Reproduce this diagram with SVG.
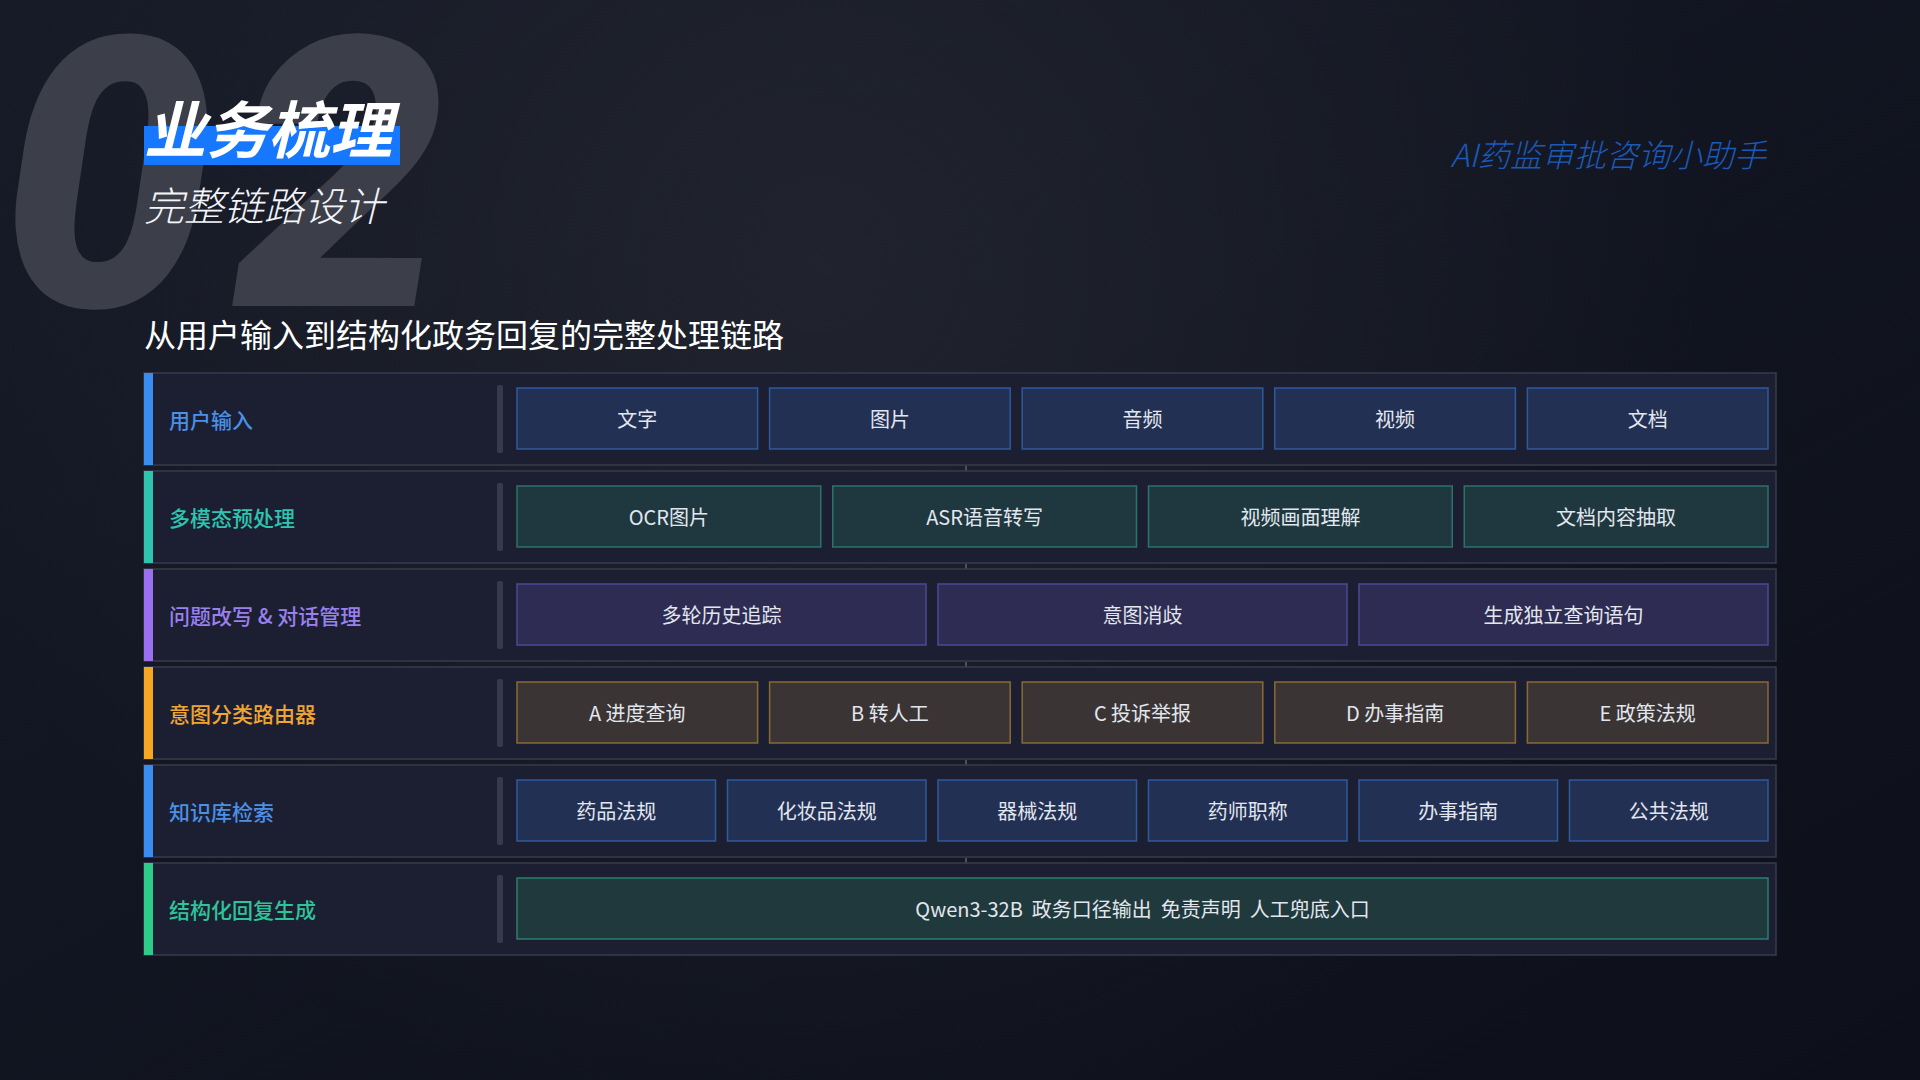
<svg xmlns="http://www.w3.org/2000/svg" width="1920" height="1080" viewBox="0 0 1920 1080">
<defs>
<linearGradient id="bg" x1="0" y1="0" x2="1" y2="1">
<stop offset="0" stop-color="#161a27"/>
<stop offset="1" stop-color="#0d101a"/>
</linearGradient>
<radialGradient id="glow" cx="820" cy="260" r="900" gradientUnits="userSpaceOnUse">
<stop offset="0" stop-color="#22252f" stop-opacity="0.9"/>
<stop offset="1" stop-color="#22252f" stop-opacity="0"/>
</radialGradient>
<style>
.row{fill:#1c1f31;stroke:#373b4e;stroke-width:1.5}
.sep{fill:#363a4c}
.lbl{font-family:"Noto Sans CJK SC","Noto Sans",sans-serif;font-size:21px;font-weight:500;dominant-baseline:central}
.bt{font-family:"Noto Sans CJK SC","Noto Sans",sans-serif;font-size:20px;fill:#e2e6ee;text-anchor:middle;dominant-baseline:central;white-space:pre}
.b1{fill:#223054;stroke:#2e5a9c;stroke-width:1.5}
.b2{fill:#1f383f;stroke:#2a7368;stroke-width:1.5}
.b3{fill:#2e2c52;stroke:#4d4796;stroke-width:1.5}
.b4{fill:#3a3534;stroke:#8a6a34;stroke-width:1.5}
.b6{fill:#1f393c;stroke:#2b7f6c;stroke-width:1.5}
.conn{stroke:#4a4f63;stroke-width:2}
</style>
</defs>
<rect width="1920" height="1080" fill="url(#bg)"/>
<rect width="1920" height="1080" fill="url(#glow)"/>

<text x="1" y="306" font-family="Roboto,'Liberation Sans',sans-serif" font-size="378" font-weight="900" font-style="italic" fill="#3c3f49" letter-spacing="20">02</text>

<rect x="144" y="126" width="256" height="39" fill="#1677ff"/>
<text x="144" y="153" font-family="'Noto Sans CJK SC',sans-serif" font-size="62" font-weight="700" font-style="italic" fill="#ffffff">业务梳理</text>
<text x="144" y="221" font-family="'Noto Sans CJK SC',sans-serif" font-size="40" font-weight="300" font-style="italic" fill="#f2f4f8">完整链路设计</text>
<text x="1766" y="167" text-anchor="end" font-family="'Noto Sans CJK SC',sans-serif" font-size="32" font-weight="300" font-style="italic" fill="#1b59b8">AI药监审批咨询小助手</text>
<text x="144" y="347" font-family="'Noto Sans CJK SC',sans-serif" font-size="32" font-weight="400" fill="#ffffff">从用户输入到结构化政务回复的完整处理链路</text>

<g id="connectors">
<line class="conn" x1="966" y1="466" x2="966" y2="471"/>
<line class="conn" x1="966" y1="564" x2="966" y2="569"/>
<line class="conn" x1="966" y1="662" x2="966" y2="667"/>
<line class="conn" x1="966" y1="760" x2="966" y2="765"/>
<line class="conn" x1="966" y1="858" x2="966" y2="863"/>
</g>

<g id="row-input">
<rect class="row" x="144" y="373" width="1632" height="92"/>
<rect x="144" y="373" width="9" height="92" fill="#3b8cf0"/>
<text class="lbl" x="169" y="419" fill="#4a90e6">用户输入</text>
<rect class="sep" x="497" y="385" width="6" height="68" rx="2"/>
<g id="n-text"><rect class="b1" x="517" y="388" width="240.6" height="61"/><text class="bt" x="637.3" y="418.5">文字</text></g>
<g id="n-image"><rect class="b1" x="769.6" y="388" width="240.6" height="61"/><text class="bt" x="889.9" y="418.5">图片</text></g>
<g id="n-audio"><rect class="b1" x="1022.2" y="388" width="240.6" height="61"/><text class="bt" x="1142.5" y="418.5">音频</text></g>
<g id="n-video"><rect class="b1" x="1274.8" y="388" width="240.6" height="61"/><text class="bt" x="1395.1" y="418.5">视频</text></g>
<g id="n-doc"><rect class="b1" x="1527.4" y="388" width="240.6" height="61"/><text class="bt" x="1647.7" y="418.5">文档</text></g>
</g>

<g id="row-preprocess">
<rect class="row" x="144" y="471" width="1632" height="92"/>
<rect x="144" y="471" width="9" height="92" fill="#2ec4b0"/>
<text class="lbl" x="169" y="517" fill="#2ec4b0">多模态预处理</text>
<rect class="sep" x="497" y="483" width="6" height="68" rx="2"/>
<g id="n-ocr"><rect class="b2" x="517" y="486" width="303.75" height="61"/><text class="bt" x="668.9" y="516.5">OCR图片</text></g>
<g id="n-asr"><rect class="b2" x="832.75" y="486" width="303.75" height="61"/><text class="bt" x="984.6" y="516.5">ASR语音转写</text></g>
<g id="n-vid"><rect class="b2" x="1148.5" y="486" width="303.75" height="61"/><text class="bt" x="1300.4" y="516.5">视频画面理解</text></g>
<g id="n-docx"><rect class="b2" x="1464.25" y="486" width="303.75" height="61"/><text class="bt" x="1616.1" y="516.5">文档内容抽取</text></g>
</g>

<g id="row-rewrite">
<rect class="row" x="144" y="569" width="1632" height="92"/>
<rect x="144" y="569" width="9" height="92" fill="#9a70f0"/>
<text class="lbl" x="169" y="615" fill="#9a80ee">问题改写 &amp; 对话管理</text>
<rect class="sep" x="497" y="581" width="6" height="68" rx="2"/>
<g id="n-hist"><rect class="b3" x="517" y="584" width="409" height="61"/><text class="bt" x="721.5" y="614.5">多轮历史追踪</text></g>
<g id="n-disamb"><rect class="b3" x="938" y="584" width="409" height="61"/><text class="bt" x="1142.5" y="614.5">意图消歧</text></g>
<g id="n-query"><rect class="b3" x="1359" y="584" width="409" height="61"/><text class="bt" x="1563.5" y="614.5">生成独立查询语句</text></g>
</g>

<g id="row-router">
<rect class="row" x="144" y="667" width="1632" height="92"/>
<rect x="144" y="667" width="9" height="92" fill="#f5a623"/>
<text class="lbl" x="169" y="713" fill="#f0a532">意图分类路由器</text>
<rect class="sep" x="497" y="679" width="6" height="68" rx="2"/>
<g id="n-a"><rect class="b4" x="517" y="682" width="240.6" height="61"/><text class="bt" x="637.3" y="712.5">A 进度查询</text></g>
<g id="n-b"><rect class="b4" x="769.6" y="682" width="240.6" height="61"/><text class="bt" x="889.9" y="712.5">B 转人工</text></g>
<g id="n-c"><rect class="b4" x="1022.2" y="682" width="240.6" height="61"/><text class="bt" x="1142.5" y="712.5">C 投诉举报</text></g>
<g id="n-d"><rect class="b4" x="1274.8" y="682" width="240.6" height="61"/><text class="bt" x="1395.1" y="712.5">D 办事指南</text></g>
<g id="n-e"><rect class="b4" x="1527.4" y="682" width="240.6" height="61"/><text class="bt" x="1647.7" y="712.5">E 政策法规</text></g>
</g>

<g id="row-kb">
<rect class="row" x="144" y="765" width="1632" height="92"/>
<rect x="144" y="765" width="9" height="92" fill="#3b8cf0"/>
<text class="lbl" x="169" y="811" fill="#4a90e6">知识库检索</text>
<rect class="sep" x="497" y="777" width="6" height="68" rx="2"/>
<g id="n-k1"><rect class="b1" x="517" y="780" width="198.5" height="61"/><text class="bt" x="616.25" y="810.5">药品法规</text></g>
<g id="n-k2"><rect class="b1" x="727.5" y="780" width="198.5" height="61"/><text class="bt" x="826.75" y="810.5">化妆品法规</text></g>
<g id="n-k3"><rect class="b1" x="938" y="780" width="198.5" height="61"/><text class="bt" x="1037.25" y="810.5">器械法规</text></g>
<g id="n-k4"><rect class="b1" x="1148.5" y="780" width="198.5" height="61"/><text class="bt" x="1247.75" y="810.5">药师职称</text></g>
<g id="n-k5"><rect class="b1" x="1359" y="780" width="198.5" height="61"/><text class="bt" x="1458.25" y="810.5">办事指南</text></g>
<g id="n-k6"><rect class="b1" x="1569.5" y="780" width="198.5" height="61"/><text class="bt" x="1668.75" y="810.5">公共法规</text></g>
</g>

<g id="row-output">
<rect class="row" x="144" y="863" width="1632" height="92"/>
<rect x="144" y="863" width="9" height="92" fill="#2ecc8a"/>
<text class="lbl" x="169" y="909" fill="#2ec49a">结构化回复生成</text>
<rect class="sep" x="497" y="875" width="6" height="68" rx="2"/>
<g id="n-gen"><rect class="b6" x="517" y="878" width="1251" height="61"/><text class="bt" x="1142.5" y="908.5">Qwen3-32B  政务口径输出  免责声明  人工兜底入口</text></g>
</g>
</svg>
